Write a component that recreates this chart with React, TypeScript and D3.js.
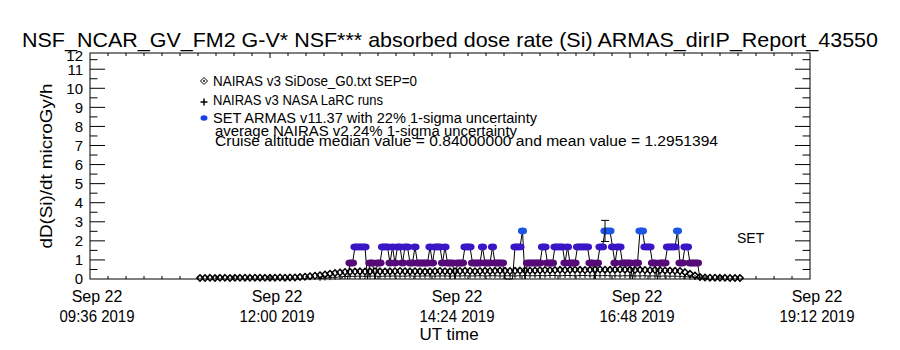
import { scaleUtc, scaleLinear, scaleThreshold, line } from 'd3';

// axis labels
const xTickDates = [
  '2019-09-22T09:36:00Z',
  '2019-09-22T12:00:00Z',
  '2019-09-22T14:24:00Z',
  '2019-09-22T16:48:00Z',
  '2019-09-22T19:12:00Z',
];
const xTickDay = ['Sep 22', 'Sep 22', 'Sep 22', 'Sep 22', 'Sep 22'];
const xTickTime = ['09:36 2019', '12:00 2019', '14:24 2019', '16:48 2019', '19:12 2019'];
const yTickLabels = ['0', '1', '2', '3', '4', '5', '6', '7', '8', '9', '10', '11', '12'];
const yMax = 11.85;

// NAIRAS v3 SiDose_G0 (diamonds), one value every 4 min
const g0Start = '2019-09-22T11:04:00Z';
const g0StepMin = 4;
const g0Values = [
  0.05, 0.05, 0.06, 0.05, 0.06, 0.06, 0.05, 0.06, 0.06, 0.07,
  0.06, 0.07, 0.07, 0.06, 0.07, 0.07, 0.08, 0.07, 0.08, 0.08,
  0.1, 0.12, 0.15, 0.17, 0.2, 0.24, 0.28, 0.31, 0.34, 0.37,
  0.38, 0.39, 0.4, 0.39, 0.4, 0.41, 0.4, 0.39, 0.4, 0.41,
  0.42, 0.41, 0.4, 0.41, 0.4, 0.39, 0.4, 0.41, 0.42, 0.41,
  0.4, 0.41, 0.42, 0.43, 0.42, 0.41, 0.42, 0.43, 0.42, 0.43,
  0.44, 0.43, 0.42, 0.43, 0.44, 0.45, 0.44,
  0.45, 0.46, 0.47, 0.46, 0.47, 0.48, 0.47, 0.48, 0.49, 0.48,
  0.47, 0.48, 0.49, 0.5, 0.49, 0.48, 0.49, 0.5, 0.49, 0.48,
  0.47, 0.48, 0.47, 0.46, 0.47, 0.46, 0.45, 0.44, 0.43, 0.42,
  0.36, 0.27, 0.18, 0.11,
  0.08, 0.07, 0.07, 0.06, 0.06, 0.05, 0.05, 0.05,
];

// NAIRAS v3 NASA LaRC runs (plus signs), one value every 4 min
const larcStart = '2019-09-22T12:40:00Z';
const larcStepMin = 4;
const larcValues = [
  0.03, 0.05, 0.07, 0.09, 0.11, 0.13,
  0.14, 0.14, 0.15, 0.14, 0.15, 0.15, 0.14, 0.15, 0.15, 0.16,
  0.15, 0.15, 0.16, 0.15, 0.15, 0.16, 0.16, 0.15, 0.16, 0.16,
  0.15, 0.16, 0.16, 0.17, 0.16, 0.16, 0.17, 0.16, 0.17, 0.17,
  0.16, 0.17, 0.17, 0.16, 0.17, 0.18, 0.17, 0.17, 0.18, 0.17,
  0.18, 0.18, 0.17, 0.18, 0.18, 0.17, 0.18, 0.18, 0.17, 0.18,
  0.17, 0.18, 0.17, 0.17, 0.16, 0.17, 0.17, 0.16, 0.16, 0.17,
  0.16, 0.16, 0.15, 0.16, 0.15, 0.15, 0.14,
  0.12, 0.1, 0.08, 0.06, 0.04,
];

// SET ARMAS v11.37 measurements, one value every 2 min
const armasStart = '2019-09-22T13:02:00Z';
const armasStepMin = 2;
const armasValues = [
  0,
  0.84, 0.84, 1.68, 1.68, 1.68, 1.68, 1.68, 0, 0.84, 0.84,
  0, 0.84, 0.84, 1.68, 1.68, 1.68, 0.84, 1.68, 0.84, 1.68,
  1.68, 0.84, 1.68, 1.68, 0.84, 0.84, 1.68, 0.84, 0.84, 0.84,
  0.84, 0.84, 1.68, 0.84, 1.68, 1.68, 1.68, 0.84, 1.68, 0.84,
  0.84, 0.84, 0, 0.84, 0.84, 0.84, 1.68, 1.68, 1.68, 0.84,
  0.84, 0.84, 0.84, 1.68, 0.84, 0.84, 0.84, 1.68, 0.84, 0.84,
  0.84, 0.84, 0, 0, 0, 0, 1.68, 1.68, 1.68, 2.52,
  0, 0.84, 0.84, 0.84, 0.84, 0.84, 0.84, 1.68, 1.68, 0.84,
  0.84, 0.84, 1.68, 1.68, 1.68, 1.68, 0.84, 1.68, 0.84, 0.84,
  0.84, 1.68, 1.68, 1.68, 1.68, 1.68, 0.84, 0.84, 0, 0.84,
  1.68, 1.68, 2.52, 2.52, 2.52, 1.68, 0.84, 1.68, 1.68, 0.84,
  0.84, 0.84, 0.84, 0, 0.84, 0.84, 2.52, 2.52, 1.68, 1.68,
  1.68, 0.84, 0.84, 0, 0.84, 0.84, 0.84, 1.68, 1.68, 1.68,
  1.68, 2.52, 0.84, 0.84, 1.68, 1.68, 0.84, 0.84, 0.84, 0.84,
  0,
];
const armasErrorIndex = [103];
const armasUncertainty = 0.22;
const armasColors = ['#560a78', '#3a16c6', '#1c56e6'];

const legendLabels = [
  'NAIRAS v3 SiDose_G0.txt SEP=0',
  'NAIRAS v3 NASA LaRC runs',
  'SET ARMAS v11.37 with 22% 1-sigma uncertainty',
  'average NAIRAS v2 24% 1-sigma uncertainty',
  'Cruise altitude median value = 0.84000000 and mean value = 1.2951394',
];
const legendWidths = [204, 170, 324, 302, 503];

const TITLE = 'NSF_NCAR_GV_FM2 G-V* NSF*** absorbed dose rate (Si) ARMAS_dirIP_Report_43550';
const FONT = '"Liberation Sans", Arial, sans-serif';

const W = 900;
const H = 350;
const left = 90;
const right = 810;
const top = 53;
const bottom = 279;

const MIN = 60000;

function series(start: string, stepMin: number, values: number[]) {
  const t0 = new Date(start).getTime();
  return values.map((v, i) => ({ t: new Date(t0 + i * stepMin * MIN), v }));
}

const diamond = (x: number, y: number, s: number) =>
  `M${x},${y - s}L${x + s},${y}L${x},${y + s}L${x - s},${y}Z`;
const plus = (x: number, y: number, s: number) =>
  `M${x - s},${y}H${x + s}M${x},${y - s}V${y + s}`;

export default function App() {
  const majors = xTickDates.map((d) => new Date(d));
  const x = scaleUtc().domain([majors[0], majors[majors.length - 1]]).range([left, right]);
  const y = scaleLinear().domain([0, yMax]).range([bottom, top]);
  const color = scaleThreshold<number, string>().domain([1.2, 2.1]).range(armasColors);

  // 10 minor divisions between labelled dates
  const minorTicks: Date[] = [];
  majors.slice(0, -1).forEach((d, i) => {
    const step = (majors[i + 1].getTime() - d.getTime()) / 10;
    for (let k = 1; k < 10; k++) minorTicks.push(new Date(d.getTime() + k * step));
  });
  const yMajor = yTickLabels.map(Number).filter((v) => v > 0 && v < yMax);
  const yMinor = yTickLabels.map((v) => Number(v) + 0.5).filter((v) => v < yMax);

  const g0 = series(g0Start, g0StepMin, g0Values);
  const larc = series(larcStart, larcStepMin, larcValues);
  const armas = series(armasStart, armasStepMin, armasValues);

  const armasLine = line<{ t: Date; v: number }>()
    .x((d) => x(d.t))
    .y((d) => y(d.v))(armas);

  return (
    <svg
      width={W}
      height={H}
      style={{ position: 'absolute', left: 0, top: 0, background: '#fff' }}
      fontFamily={FONT}
    >
      <rect width={W} height={H} fill="#fff" />
      <text x={22} y={47} fontSize={21} textLength={856} lengthAdjust="spacingAndGlyphs">
        {TITLE}
      </text>

      {/* axes box and ticks */}
      <rect x={left} y={top} width={right - left} height={bottom - top} fill="none" stroke="#000" />
      {majors.slice(1, -1).map((d, i) => (
        <g key={'xm' + i} stroke="#000">
          <line x1={x(d)} x2={x(d)} y1={bottom} y2={bottom - 5} />
          <line x1={x(d)} x2={x(d)} y1={top} y2={top + 5} />
        </g>
      ))}
      {minorTicks.map((d, i) => (
        <g key={'xn' + i} stroke="#000">
          <line x1={x(d)} x2={x(d)} y1={bottom} y2={bottom - 3} />
          <line x1={x(d)} x2={x(d)} y1={top} y2={top + 3} />
        </g>
      ))}
      {yMajor.map((v) => (
        <g key={'ym' + v} stroke="#000">
          <line x1={left} x2={left + 15} y1={y(v)} y2={y(v)} />
          <line x1={right} x2={right - 15} y1={y(v)} y2={y(v)} />
        </g>
      ))}
      {yMinor.map((v) => (
        <g key={'yn' + v} stroke="#000">
          <line x1={left} x2={left + 7.5} y1={y(v)} y2={y(v)} />
          <line x1={right} x2={right - 7.5} y1={y(v)} y2={y(v)} />
        </g>
      ))}

      {/* tick labels */}
      {yTickLabels.map((lab) => (
        <text
          key={'yl' + lab}
          x={83}
          y={Math.max(y(Number(lab)), top + 3)}
          dy="0.36em"
          fontSize={15}
          textAnchor="end"
        >
          {lab}
        </text>
      ))}
      {majors.map((d, i) => (
        <g key={'xl' + i} fontSize={16} textAnchor="middle">
          <text x={x(d) + 7} y={302}>{xTickDay[i]}</text>
          <text x={x(d) + 7} y={322} textLength={75} lengthAdjust="spacingAndGlyphs">
            {xTickTime[i]}
          </text>
        </g>
      ))}
      <text x={449} y={340} fontSize={17} textAnchor="middle">UT time</text>
      <text
        transform="translate(52,166) rotate(-90)"
        fontSize={17}
        textAnchor="middle"
        textLength={165}
        lengthAdjust="spacingAndGlyphs"
      >
        dD(Si)/dt microGy/h
      </text>

      {/* NAIRAS G0 diamonds */}
      <g fill="none" stroke="#000" strokeWidth={1.5}>
        {g0.map((d, i) => (
          <path key={'g' + i} d={diamond(x(d.t), y(d.v), 3.2)} />
        ))}
      </g>
      {/* NAIRAS LaRC plus */}
      <g fill="none" stroke="#000">
        {larc.map((d, i) => (
          <path key={'p' + i} d={plus(x(d.t), y(d.v), 2.5)} />
        ))}
      </g>
      {/* ARMAS */}
      <path d={armasLine ?? ''} fill="none" stroke="#000" strokeWidth={1} />
      {armas
        .filter((d) => d.v > 0)
        .map((d, i) => (
          <ellipse key={'a' + i} cx={x(d.t)} cy={y(d.v)} rx={4.6} ry={3.4} fill={color(d.v)} />
        ))}
      {armasErrorIndex.map((idx) => {
        const d = armas[idx];
        const cx = x(d.t);
        const y0 = y(d.v * (1 - armasUncertainty));
        const y1 = y(d.v * (1 + armasUncertainty));
        return (
          <g key={'e' + idx} stroke="#000">
            <line x1={cx} x2={cx} y1={y0} y2={y1} />
            <line x1={cx - 4} x2={cx + 4} y1={y0} y2={y0} />
            <line x1={cx - 4} x2={cx + 4} y1={y1} y2={y1} />
          </g>
        );
      })}
      <text x={737} y={243} fontSize={14}>SET</text>

      {/* legend */}
      <path d={diamond(204, 81, 3.5)} fill="none" stroke="#000" />
      <path d={diamond(204, 81, 1.2)} fill="#000" />
      <path d={plus(204, 102, 3.5)} fill="none" stroke="#000" strokeWidth={1.5} />
      <ellipse cx={204} cy={118} rx={3.5} ry={2.8} fill="#1a3ee8" />
      <g fontSize={14}>
        {legendLabels.map((lab, i) => (
          <text
            key={'lg' + i}
            x={i < 3 ? 213 : 215}
            y={[86, 105, 123, 136, 146][i]}
            textLength={legendWidths[i]}
            lengthAdjust="spacingAndGlyphs"
          >
            {lab}
          </text>
        ))}
      </g>
    </svg>
  );
}
